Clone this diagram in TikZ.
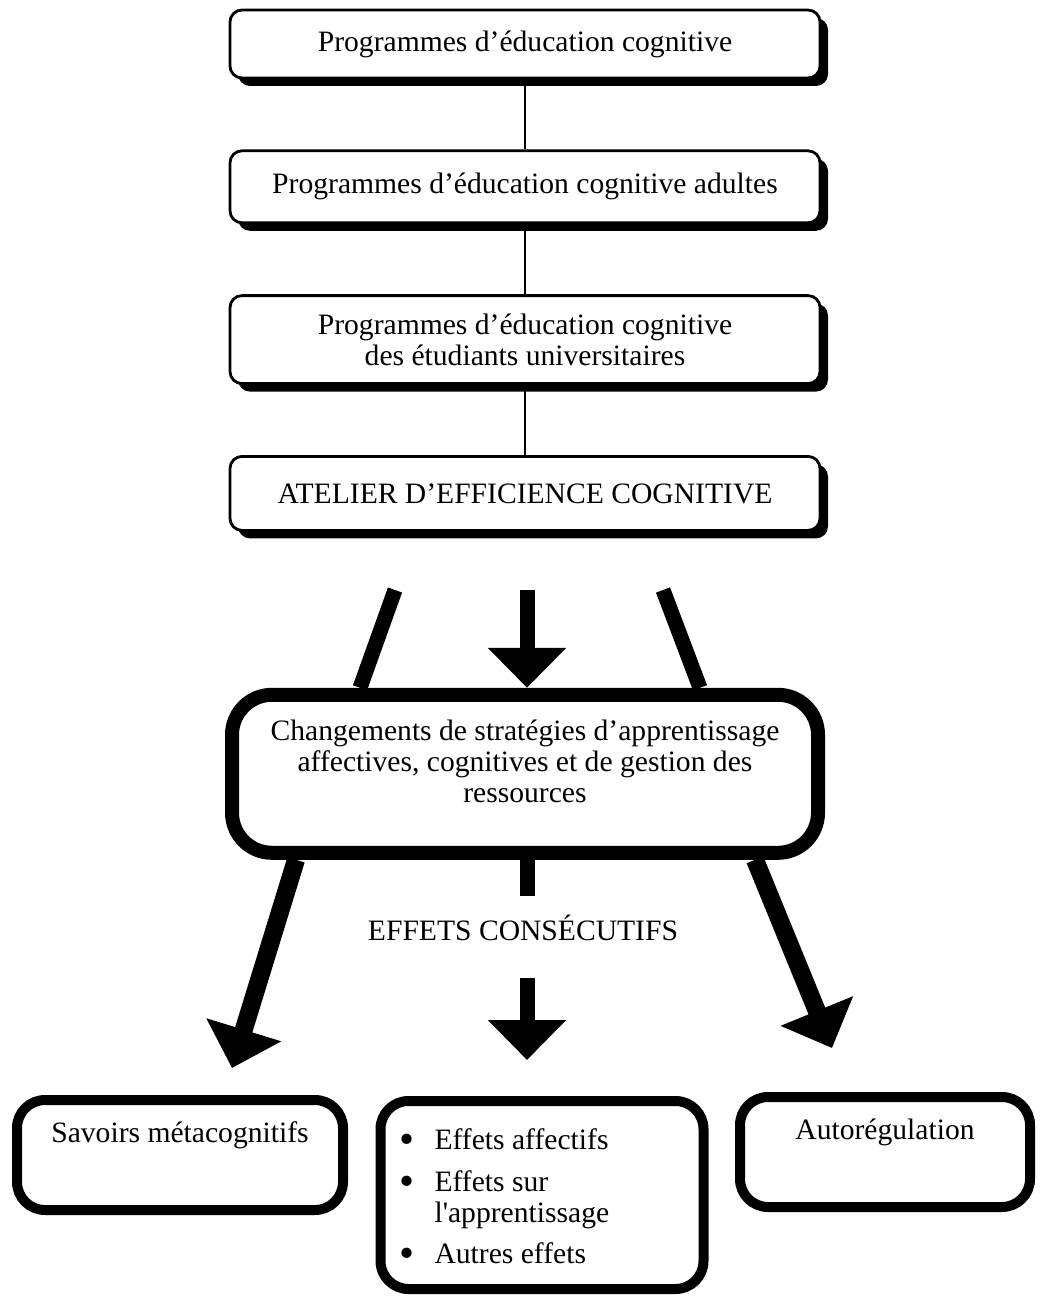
\documentclass[tikz,border=0pt]{standalone}
\usepackage{fontspec}
\usepackage{graphicx}
\setmainfont{Liberation Serif}
\usetikzlibrary{shapes,arrows.meta,positioning,calc,shadows}
\tikzset{
block/.style = {draw, line width=1.4pt, fill=white, rectangle, rounded corners=6pt,
  minimum width=295pt, align=center,
  drop shadow={shadow xshift=4pt, shadow yshift=-4pt, fill=black, opacity=1}},
bigblock/.style = {draw, line width=7pt, fill=white, rectangle, rounded corners=20pt,
  minimum width=293pt, minimum height=79pt, align=center, text depth=13pt},
result/.style = {draw, line width=5pt, fill=white, rectangle, rounded corners=14pt,
  minimum height=55pt,
  drop shadow={shadow xshift=0.5pt, shadow yshift=-2pt, fill=black, opacity=1}},
toptext/.style = {text depth=23pt},
link/.style = {line width=0.8pt},
bar/.style = {line width=7.5pt},
bigarrow/.style = {line width=7.5pt, -{Triangle[width=38pt,length=20pt]}},
tmp/.style = {coordinate}
}
\newcommand{\bigbullet}{\raisebox{-0.12em}{\scalebox{1.45}{\textbullet}}}

\begin{document}
\begin{tikzpicture}[x=0.5pt, y=-0.5pt, node distance=35pt,
  every node/.style={font=\fontsize{14.8}{15.5}\selectfont}]
    \useasboundingbox (0,0) rectangle (1047,1300);

    % column of programmes
    \node [block, minimum height=34pt] (prog) at (525,44) {Programmes d'éducation cognitive};
    \node [block, minimum height=36pt, below=of prog] (adult) {Programmes d'éducation cognitive adultes};
    \node [block, minimum height=44pt, below=of adult] (univ) {Programmes d'éducation cognitive\\des étudiants universitaires};
    \node [block, minimum height=37pt, below=of univ] (aec) {ATELIER D'EFFICIENCE COGNITIVE};
    \draw [link] (prog) -- (adult);
    \draw [link] (adult) -- (univ);
    \draw [link] (univ) -- (aec);

    \node [bigblock, below=78pt of aec] (chg) {Changements de stratégies d'apprentissage\\affectives, cognitives et de gestion des\\ressources};

    \node [tmp] (lbar) at (395,590) {};
    \node [tmp] (mtop) at (527,590) {};
    \node [tmp] (rbar) at (663,590) {};
    \draw [bar] (lbar) -- ($(chg.north)+(-165,0)$);
    \draw [bigarrow] (mtop) -- (mtop |- chg.north);
    \draw [bar] (rbar) -- ($(chg.north)+(175,0)$);

    \node (cons) at (523,928) {EFFETS CONSÉCUTIFS};

    % effets
    \node [result, toptext, minimum width=163pt] (sav) at (180,1155) {Savoirs métacognitifs};
    \node [result, minimum width=161.5pt, minimum height=94pt, text width=142.5pt,
      inner xsep=9.5pt, align=flush left, text depth=27pt] (autres) at (542,1195)
      {\begin{tabular}{@{}l@{\hspace{10pt}}l@{}}
       \bigbullet & Effets affectifs\\[5.5pt]
       \bigbullet & Effets sur\\
                  & l\textquotesingle apprentissage\\[5pt]
       \bigbullet & Autres effets
       \end{tabular}};
    \node [result, toptext, minimum width=145pt] (autoreg) at (885,1152) {Autorégulation};

    \node [tmp] (ltip) at (232,1068) {};
    \node [tmp] (rtip) at (832,1048) {};
    \draw [bigarrow, line width=9pt] ($(chg.south)+(-229,0)$) -- (ltip);
    \draw [bar, shorten >=6pt] (chg.south -| mtop) -- (cons.north -| mtop);
    \draw [bigarrow, shorten <=15pt, shorten >=18pt] (cons.south -| mtop) -- (autres.north -| mtop);
    \draw [bigarrow, line width=9pt] ($(chg.south)+(230,0)$) -- (rtip);
\end{tikzpicture}
\end{document}
